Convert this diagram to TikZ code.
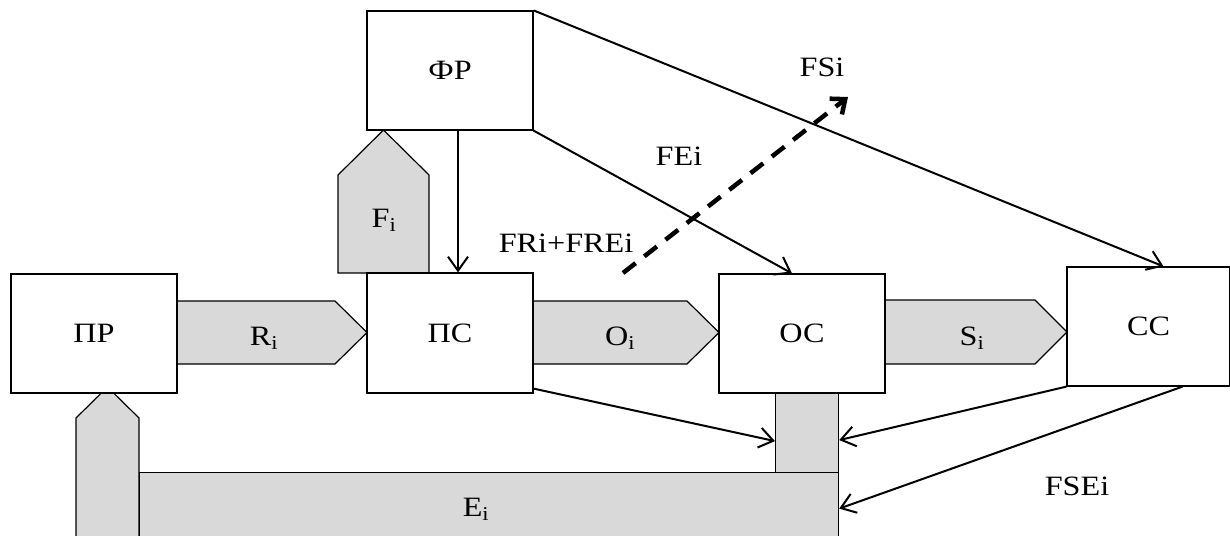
\documentclass[tikz,border=0pt]{standalone}
\usepackage{fontspec}
\setmainfont{Liberation Serif}[FakeStretch=1.15]
\usetikzlibrary{arrows.meta}
\begin{document}
\begin{tikzpicture}[x=1pt,y=-1pt,
  box/.style={draw=black,line width=1.2pt,fill=white,minimum width=166pt,minimum height=119pt,inner sep=0pt,font=\fontsize{28}{33}\selectfont},
  fat/.style={draw=black,line width=1.2pt,fill=black!15},
  lbl/.style={font=\fontsize{28}{33}\selectfont,inner sep=0pt},
  conn/.style={line width=2pt,-{Straight Barb[length=14pt,width=20pt,line width=2pt]}},
  dasharrow/.style={line width=4.5pt,dash pattern=on 16pt off 11pt,-{Straight Barb[length=12pt,width=20pt,line width=4.5pt]}}
]
\useasboundingbox (0,0) rectangle (1230,535);
% fat arrows
\draw[fat] (177,301) -- (335,301) -- (367,332.5) -- (335,364) -- (177,364) -- cycle;
\draw[fat] (533,301) -- (687,301) -- (719,332.5) -- (687,364) -- (533,364) -- cycle;
\draw[fat] (885,300) -- (1035,300) -- (1067,332) -- (1035,364) -- (885,364) -- cycle;
\draw[fat] (338,273) -- (338,175) -- (383.5,130) -- (429,175) -- (429,273) -- cycle;
\draw[fat] (76,545) -- (76,418) -- (107.5,387) -- (139,418) -- (139,545) -- cycle;
\node[fat,minimum width=699pt,minimum height=70pt,inner sep=0pt,anchor=north west] (band) at (139,472) {};
\node[fat,minimum width=63pt,minimum height=79pt,inner sep=0pt,anchor=north west] (strip) at (775,393) {};
% boxes
\node[box] (pr) at (94,333.5) {ПР};
\node[box,minimum height=120pt] (ps) at (450,333) {ПС};
\node[box] (os) at (802,333.5) {ОС};
\node[box,minimum width=163pt] (ss) at (1148.5,326.5) {СС};
\node[box] (fr) at (450,70.5) {ФР};
% fat arrow labels
\node[lbl,anchor=base] at (264,345) {R\textsubscript{i}};
\node[lbl,anchor=base] at (620,345) {O\textsubscript{i}};
\node[lbl,anchor=base] at (972,345) {S\textsubscript{i}};
\node[lbl,anchor=base] at (384,227) {F\textsubscript{i}};
\node[lbl,anchor=base] at (476,516) {E\textsubscript{i}};
% connectors
\draw[conn] ([xshift=8pt]fr.south) -- ([xshift=8pt]ps.north);
\draw[conn] (fr.south east) -- ([xshift=-10pt]os.north);
\draw[conn] (fr.north east) -- ([xshift=15pt]ss.north);
\draw[conn] ([yshift=5pt]ps.south east) -- ([yshift=-8pt]strip.west);
\draw[conn] (ss.south west) -- ([yshift=-7pt]strip.east);
\draw[conn] ([xshift=34pt]ss.south) -- ([yshift=-1pt]band.east);
\coordinate (d1) at (623,273);
\coordinate (d2) at (848,97);
\draw[dasharrow] (d1) -- (d2);
% text labels
\node[lbl,anchor=base] at (822,77) {FSi};
\node[lbl,anchor=base] at (679,165) {FEi};
\node[lbl,anchor=base] at (566,252) {FRi+FREi};
\node[lbl,anchor=base] at (1077,495) {FSEi};
\end{tikzpicture}
\end{document}
